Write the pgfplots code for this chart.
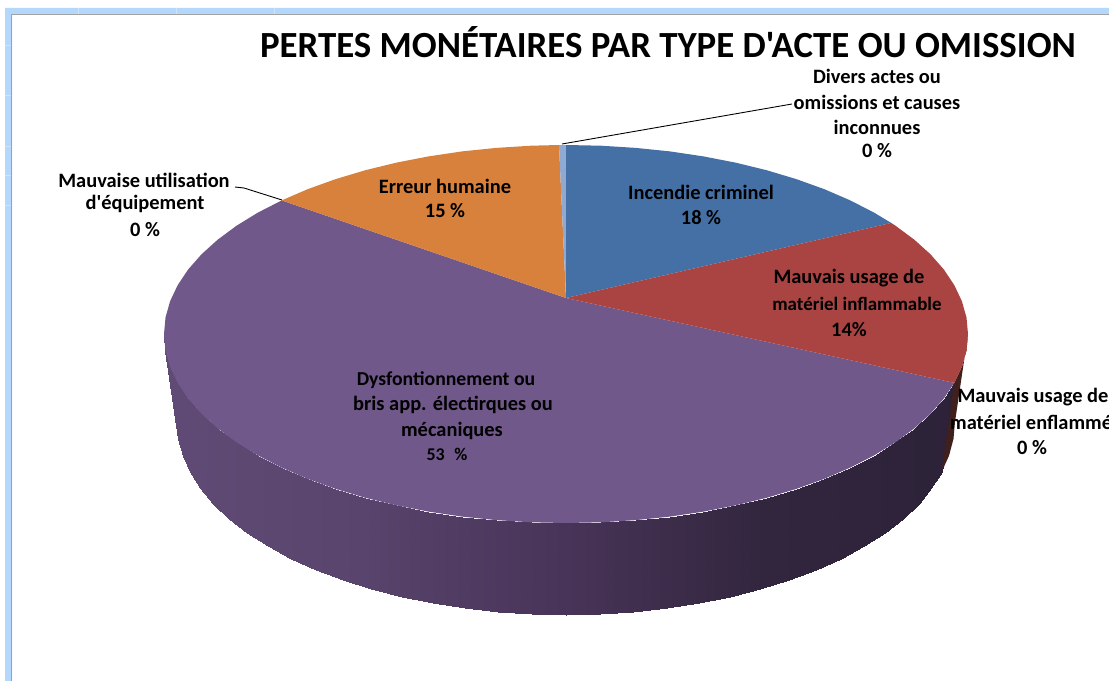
\documentclass[border=0pt]{standalone}
\usepackage{fontspec}
\newfontfamily\carlito{Carlito}
\usepackage{pgfplots}
\pgfplotsset{compat=1.18}
\definecolor{frameBlue}{HTML}{B4D8FC}
\definecolor{frameTick}{HTML}{CFE4FA}
\definecolor{frameGrey}{HTML}{A3A3A3}
\definecolor{sliceBlue}{HTML}{4470A5}
\definecolor{sliceRed}{HTML}{A94442}
\definecolor{slicePurple}{HTML}{71588B}
\definecolor{sliceOrange}{HTML}{D7813C}
\definecolor{sliceSliver}{HTML}{8FA9D1}
\definecolor{sideBrown}{HTML}{40201C}
\newcommand{\lab}[2][20.5]{\carlito\fontsize{#1}{22}\selectfont\bfseries #2}
\begin{document}
\begin{tikzpicture}
\path[use as bounding box] (0,0) rectangle (1109bp,681bp);
\begin{axis}[
  scale only axis,
  width=1109bp, height=681bp,
  xmin=0, xmax=1109, ymin=0, ymax=681,
  y dir=reverse,
  hide axis,
  clip=false,
  colormap={sidepurple}{rgb255(0cm)=(96,75,118); rgb255(2cm)=(88,68,108); rgb255(4cm)=(72,52,88); rgb255(6cm)=(50,38,62); rgb255(8cm)=(44,34,56)},
  point meta min=164, point meta max=964,
]
% window frame
\addplot[fill=frameBlue,draw=none] coordinates {(5,8) (1109,8) (1109,15) (12,15) (12,681) (5,681)} -- cycle;
\addplot[draw=frameGrey,line width=1.3pt] coordinates {(1109,14.5) (11.5,14.5) (11.5,681)};
\draw[frameTick,line width=0.7pt] (78,8)--(78,14) (176,8)--(176,14) (274,8)--(274,14) (5,45)--(11,45) (5,95)--(11,95) (5,146)--(11,146) (5,175)--(11,175) (5,205)--(11,205);

% side wall of the pie
\addplot[surf,shader=interp,mesh/rows=2,point meta=x] table[x=x,y=y] {
x y
164 334
165.5 350.5
170.1 366.8
177.7 382.9
188.2 398.6
201.7 413.9
217.9 428.5
236.7 442.4
258.1 455.5
281.7 467.6
307.6 478.8
335.4 488.8
365 497.7
396.1 505.3
428.5 511.6
462 516.6
496.2 520.1
531 522.3
566 523
601 522.3
635.8 520.1
670 516.6
703.5 511.6
735.9 505.3
767 497.7
796.6 488.8
824.4 478.8
850.3 467.6
873.9 455.5
895.3 442.4
914.1 428.5
930.3 413.9
943.8 398.6
954.3 382.9
177 422
178.5 438.8
182.9 455.5
190.3 471.9
200.5 488
213.4 503.6
229.1 518.5
247.3 532.7
268 546.1
290.9 558.5
316 569.8
342.9 580.1
371.5 589.1
401.6 596.9
433 603.4
465.3 608.4
498.5 612.1
532.1 614.3
566 615
599.9 614.3
633.5 612.1
666.7 608.4
699 603.4
730.4 596.9
760.5 589.1
789.1 580.1
816 569.8
841.1 558.5
864 546.1
884.7 532.7
902.9 518.5
918.6 503.6
931.5 488
941.7 471.9
};
\addplot[fill=sideBrown,draw=none] coordinates {(954.3,382.9) (961.9,366.8) (966.5,350.5) (968,334) (955,422) (953.5,438.8) (949.1,455.5) (941.7,471.9)} -- cycle;

% top face
\addplot[fill=slicePurple,draw=none] coordinates {(566,298) (954.3,382.9) (943.8,398.6) (930.3,413.9) (914.1,428.5) (895.3,442.4) (873.9,455.5) (850.3,467.6) (824.4,478.8) (796.6,488.8) (767,497.7) (735.9,505.3) (703.5,511.6) (670,516.6) (635.8,520.1) (601,522.3) (566,523) (531,522.3) (496.2,520.1) (462,516.6) (428.5,511.6) (396.1,505.3) (365,497.7) (335.4,488.8) (307.6,478.8) (281.7,467.6) (258.1,455.5) (236.7,442.4) (217.9,428.5) (201.7,413.9) (188.2,398.6) (177.7,382.9) (170.1,366.8) (165.5,350.5) (164,334) (165.5,317.5) (170.1,301.2) (177.7,285.1) (188.2,269.4) (201.7,254.1) (217.9,239.5) (236.7,225.6) (258.1,212.5) (281.7,200.4)} -- cycle;
\addplot[fill=sliceOrange,draw=none] coordinates {(566,298) (281.7,200.4) (307.6,189.2) (335.4,179.2) (365,170.3) (396.1,162.7) (428.5,156.4) (462,151.4) (496.2,147.9) (531,145.7) (559,145)} -- cycle;
\addplot[fill=sliceSliver,draw=none] coordinates {(566,298) (559,145) (566,145)} -- cycle;
\addplot[fill=sliceBlue,draw=none] coordinates {(566,298) (566,145) (601,145.7) (635.8,147.9) (670,151.4) (703.5,156.4) (735.9,162.7) (767,170.3) (796.6,179.2) (824.4,189.2) (850.3,200.4) (873.9,212.5) (891.2,222.9)} -- cycle;
\addplot[fill=sliceRed,draw=none] coordinates {(566,298) (891.2,222.9) (895.3,225.6) (914.1,239.5) (930.3,254.1) (943.8,269.4) (954.3,285.1) (961.9,301.2) (966.5,317.5) (968,334) (966.5,350.5) (961.9,366.8) (954.3,382.9)} -- cycle;

% leader lines
\addplot[black,line width=0.9pt] coordinates {(562,144) (792,104)};
\addplot[black,line width=0.9pt] coordinates {(235,187) (244,188) (282,200)};

% title and labels
\node[anchor=center] at (668,42) {\lab[37]{PERTES MONÉTAIRES PAR TYPE D'ACTE OU OMISSION}};
\node at (877,76) {\lab{Divers actes ou}};
\node at (877,102) {\lab{omissions et causes}};
\node at (877,127) {\lab{inconnues}};
\node at (877,151) {\lab{0 \%}};
\node at (144,180) {\lab{Mauvaise utilisation}};
\node at (145,204) {\lab{d'équipement}};
\node at (145,230) {\lab{0 \%}};
\node at (445,186) {\lab{Erreur humaine}};
\node at (445,211) {\lab{15 \%}};
\node at (701,192) {\lab{Incendie criminel}};
\node at (701,218) {\lab{18 \%}};
\node at (849,278) {\lab{Mauvais usage de}};
\node at (857,304) {\lab[19]{matériel inflammable}};
\node at (849,330) {\lab{14\%}};
\node at (446,380) {\lab[19.8]{Dysfontionnement ou}};
\node at (453,405) {\lab{bris app. électirques ou}};
\node at (452,431) {\lab{mécaniques}};
\node at (447,454) {\lab[18]{53\hspace{.3em} \%}};
\node at (1033,397) {\lab{Mauvais usage de}};
\node[anchor=west,inner sep=0pt] at (950,422) {\lab{matériel enflammé}};
\node at (1032,448) {\lab{0 \%}};
\end{axis}
\end{tikzpicture}
\end{document}
